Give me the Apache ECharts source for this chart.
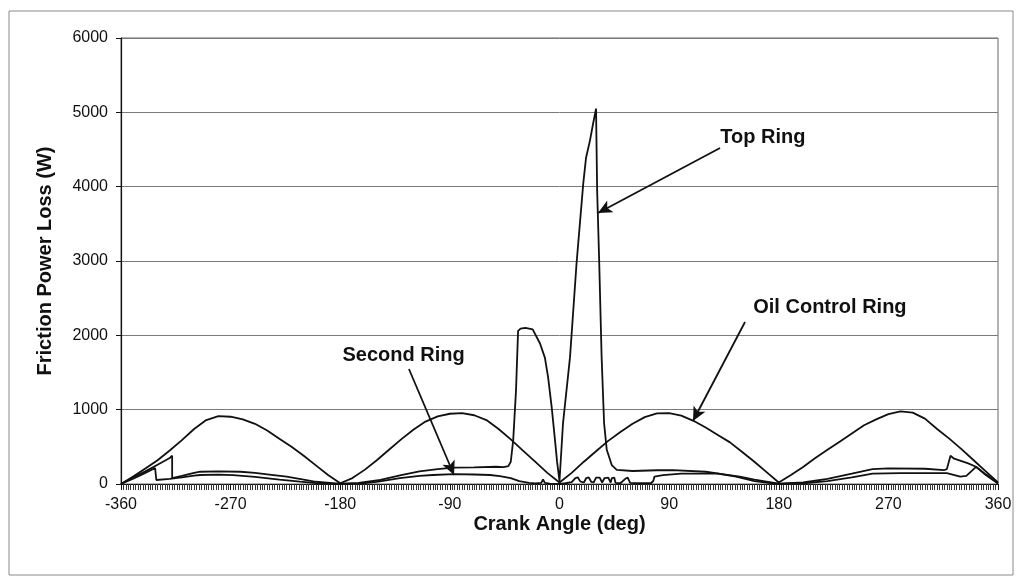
<!DOCTYPE html>
<html>
<head>
<meta charset="utf-8">
<script src="https://cdn.jsdelivr.net/npm/echarts@6/dist/echarts.min.js"></script>
<style>
html,body{margin:0;padding:0;background:#fff;}
#chart{width:1019px;height:577px;}
</style>
</head>
<body>
<div id="chart"></div>
<script>
// ---- Data ----
const xTicks = [-360, -270, -180, -90, 0, 90, 180, 270, 360];
const yTicks = [0, 1000, 2000, 3000, 4000, 5000, 6000];

const oilAngle = [-360,-350,-340,-330,-320,-310,-300,-290,-280,-270,-260,-250,-240,-230,-220,-210,-200,-190,-180,
  -170,-160,-150,-140,-130,-120,-110,-100,-90,-80,-70,-60,-50,-40,-30,-20,-10,0,
  10,20,30,40,50,60,70,80,90,100,110,120,130,140,150,160,170,180,
  190,200,210,220,230,240,250,260,270,280,290,300,310,320,330,340,350,360];
const oilPower = [0,100,210,320,450,590,740,860,912,905,870,810,720,610,500,380,250,120,10,
  80,190,320,460,600,730,840,910,945,953,925,860,740,600,450,300,150,20,
  150,300,440,580,700,810,900,950,953,920,850,760,660,560,430,300,160,20,
  120,230,350,460,570,680,790,870,940,978,960,880,740,610,470,320,170,20];

const topAngle = [-360,-350,-340,-330,-320,-318,-318,-310,-300,-295,-280,-262,-250,-240,-224,-210,-200,-186,-180,
  -165,-147,-130,-115,-100,-87,-70,-52,-46,-42,-40,-38,-35.7,-34,-32,-28,-25,-22,-16,-12,-9.4,-6.4,-3.7,-2,0,
  2.9,8.6,14,19.5,21.8,25,27.6,30,30.9,32.5,34.6,36.6,38.8,42.9,47,60,80,93,120,135,148,160,175,180,
  200,220,240,257,270,300,316,318,321,324,335,342,350,360];
const topPower = [0,90,170,260,350,380,80,110,150,165,170,165,150,130,98,60,30,13,5,
  15,54,120,170,200,219,225,232,228,240,300,590,1260,2060,2090,2100,2090,2080,1890,1700,1440,1030,590,300,40,
  820,1700,2970,4040,4390,4620,4850,5050,3950,3050,1700,820,460,255,190,175,185,188,165,130,98,60,20,5,
  20,70,140,200,210,205,188,200,380,340,280,232,130,10];

const secAngle = [-360,-350,-340,-332,-331,-320,-310,-300,-295,-280,-268,-250,-230,-213,-200,-190,-180,
  -164,-150,-131,-115,-104,-87,-70,-57,-49,-40,-33,-25,-20,-15,-13.5,-12,-8,0,
  5,10,13,15,17,20,22,24,26,28,30,33,35,37,40,42,43,45,46,50,54,56,58,65,75,77,78,85,100,130,145,160,175,180,
  200,220,240,257,280,300,318,329,334,342,350,360];
const secPower = [0,70,150,215,54,70,90,112,121,125,120,95,60,31,12,3,0,
  5,30,80,110,121,134,128,121,107,80,40,15,8,15,60,15,5,0,
  10,25,80,90,35,20,80,90,30,20,85,85,20,80,85,20,80,85,15,10,70,85,15,10,10,40,100,120,140,140,100,40,10,0,
  10,40,90,140,147,147,147,98,110,230,120,5];

// annotation texts and arrows (in data units)
const labelTexts = ["Top Ring", "Oil Control Ring", "Second Ring"];
const labelX = [167, 222, -128];
const labelY = [4668, 2381, 1735];
const arrowFromX = [131.8, 152.3, -123.6];
const arrowFromY = [4520, 2179, 1547];
const arrowToX = [31.6, 109.6, -86.6];
const arrowToY = [3646, 848, 121];

const zip = (a, b) => a.map((v, i) => [v, b[i]]);
const FONT = '"Liberation Sans", Arial, sans-serif';
const INK = '#111';

const chart = echarts.init(document.getElementById('chart'), null, {renderer: 'canvas'});

const lineStyle = {color: INK, width: 1.8};

chart.setOption({
  backgroundColor: '#fff',
  animation: false,
  textStyle: {fontFamily: FONT},
  graphic: [{
    type: 'rect', shape: {x: 9, y: 11, width: 1004, height: 564},
    style: {fill: 'none', stroke: '#8a8a8a', lineWidth: 1}, silent: true
  }],
  grid: {left: 121, right: 21, top: 38, bottom: 93, show: true, borderColor: '#666', borderWidth: 1, backgroundColor: 'transparent'},
  xAxis: {
    type: 'value', min: -360, max: 360, interval: 90,
    name: 'Crank Angle (deg)', nameLocation: 'middle', nameGap: 30, nameMoveOverlap: false,
    nameTextStyle: {fontFamily: FONT, fontWeight: 'bold', fontSize: 20, color: INK},
    axisLine: {show: true, onZero: false, lineStyle: {color: INK, width: 1.2}},
    axisTick: {show: true, length: 6, lineStyle: {color: INK, width: 1}},
    minorTick: {show: true, splitNumber: 45, length: 6, lineStyle: {color: '#333', width: 1}},
    splitLine: {show: false},
    axisLabel: {fontFamily: FONT, fontSize: 16, color: INK, margin: 13,
      formatter: v => xTicks.includes(v) ? String(v) : ''}
  },
  yAxis: {
    type: 'value', min: 0, max: 6000, interval: 1000,
    name: 'Friction Power Loss (W)', nameLocation: 'middle', nameGap: 66, nameRotate: 90,
    nameTextStyle: {fontFamily: FONT, fontWeight: 'bold', fontSize: 20, color: INK},
    axisLine: {show: true, onZero: false, lineStyle: {color: INK, width: 1.2}},
    axisTick: {show: true, length: 5, lineStyle: {color: INK}},
    splitLine: {show: true, lineStyle: {color: '#7a7a7a', width: 1}},
    axisLabel: {fontFamily: FONT, fontSize: 16, color: INK, margin: 13,
      formatter: v => yTicks.includes(v) ? String(v) : ''}
  },
  series: [
    {
      name: 'Oil Control Ring', type: 'line', data: zip(oilAngle, oilPower),
      showSymbol: false, lineStyle, z: 3,
      markLine: {
        silent: true, symbol: ['none', 'arrow'], symbolSize: [10, 14],
        lineStyle: {color: INK, width: 1.8, type: 'solid'},
        label: {show: false},
        data: arrowFromX.map((x, i) => [{coord: [x, arrowFromY[i]]}, {coord: [arrowToX[i], arrowToY[i]]}])
      },
      markPoint: {
        silent: true, symbol: 'circle', symbolSize: 0,
        label: {show: true, position: 'inside', fontFamily: FONT, fontWeight: 'bold', fontSize: 20, color: INK,
          formatter: p => p.name},
        data: labelTexts.map((t, i) => ({name: t, coord: [labelX[i], labelY[i]]}))
      }
    },
    {name: 'Top Ring', type: 'line', data: zip(topAngle, topPower), showSymbol: false, lineStyle, z: 3},
    {name: 'Second Ring', type: 'line', data: zip(secAngle, secPower), showSymbol: false, lineStyle, z: 3}
  ]
});
</script>
</body>
</html>
